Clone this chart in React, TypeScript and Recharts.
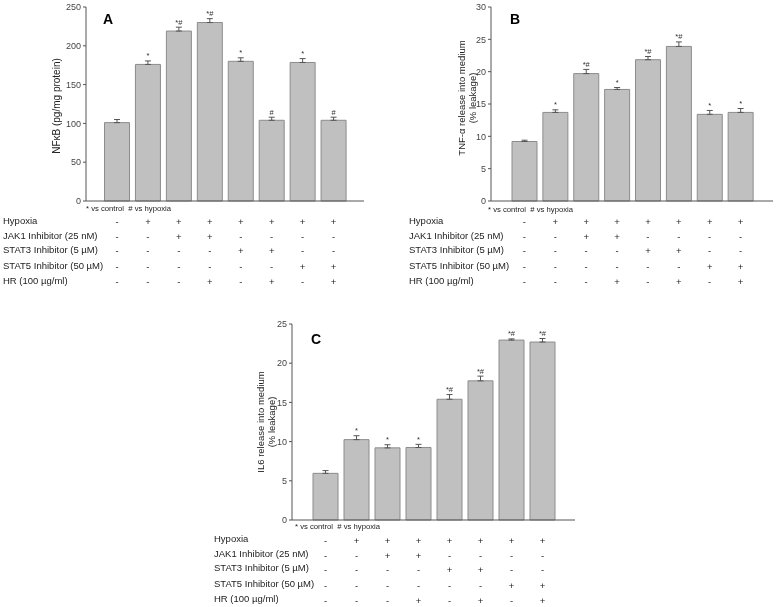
import React from 'react';
import { BarChart, Bar, XAxis, YAxis, ErrorBar, LabelList } from 'recharts';

// treatment groups, left to right
const groups = ['Control', 'Hypoxia', 'JAK1', 'JAK1 + HR', 'STAT3', 'STAT3 + HR', 'STAT5', 'STAT5 + HR'];

// condition table under every panel
const rowLabels = ['Hypoxia', 'JAK1 Inhibitor (25 nM)', 'STAT3 Inhibitor (5 \u00b5M)', 'STAT5 Inhibitor (50 \u00b5M)', 'HR (100 \u00b5g/ml)'];
const hypoxiaSigns = ['-', '+', '+', '+', '+', '+', '+', '+'];
const jak1Signs = ['-', '-', '+', '+', '-', '-', '-', '-'];
const stat3Signs = ['-', '-', '-', '-', '+', '+', '-', '-'];
const stat5Signs = ['-', '-', '-', '-', '-', '-', '+', '+'];
const hrSigns = ['-', '-', '-', '+', '-', '+', '-', '+'];
const signRows = [hypoxiaSigns, jak1Signs, stat3Signs, stat5Signs, hrSigns];

// A: NFkB
const nfkbValues = [101, 176, 219, 230, 180, 104, 178.5, 104];
const nfkbErrors = [4, 4.5, 5, 5, 4.5, 4, 5, 4];
const nfkbMarks = ['', '*', '*#', '*#', '*', '#', '*', '#'];
const nfkbTicks = [0, 50, 100, 150, 200, 250];

// B: TNF-alpha
const tnfValues = [9.2, 13.7, 19.7, 17.25, 21.85, 23.9, 13.4, 13.7];
const tnfErrors = [0.2, 0.4, 0.65, 0.3, 0.5, 0.7, 0.6, 0.6];
const tnfMarks = ['', '*', '*#', '*', '*#', '*#', '*', '*'];
const tnfTicks = [0, 5, 10, 15, 20, 25, 30];

// C: IL6
const il6Values = [5.95, 10.25, 9.2, 9.25, 15.4, 17.75, 22.95, 22.7];
const il6Errors = [0.35, 0.5, 0.4, 0.4, 0.6, 0.6, 0.15, 0.45];
const il6Marks = ['', '*', '*', '*', '*#', '*#', '*#', '*#'];
const il6Ticks = [0, 5, 10, 15, 20, 25];

const FONT = 'Arial, "Liberation Sans", sans-serif';
const rowOffsets = [20, 35, 49, 65, 80];

const buildData = (values: number[], errors: number[]) =>
  groups.map((g, i) => ({ group: g, value: values[i], err: [0, errors[i]] }));

const TableTick = (props: any) => {
  const { x, y, index } = props;
  return (
    <g>
      {signRows.map((row, r) => (
        <text key={r} x={x} y={y + rowOffsets[r] + 3.5} textAnchor="middle" fontSize={9.5} fontFamily={FONT} fill="#222">
          {row[index]}
        </text>
      ))}
    </g>
  );
};

interface PanelProps {
  left: number;
  top: number;
  width: number;
  height: number;
  axisWidth: number;
  marginTop: number;
  marginRight: number;
  axisHeight: number;
  padL: number;
  padR: number;
  values: number[];
  errors: number[];
  marks: string[];
  ticks: number[];
}

const Panel = (p: PanelProps) => {
  const data = buildData(p.values, p.errors);
  const renderMark = (lp: any) => {
    const { x, y, width, height, index } = lp;
    const v = p.values[index];
    const errPx = v ? (height * p.errors[index]) / v : 0;
    return (
      <text x={x + width / 2} y={y - errPx - 2.5} textAnchor="middle" fontSize={7.5} fontFamily={FONT} fill="#333">
        {p.marks[index]}
      </text>
    );
  };
  return (
    <div style={{ position: 'absolute', left: p.left, top: p.top }}>
      <BarChart
        width={p.width}
        height={p.height}
        data={data}
        margin={{ top: p.marginTop, right: p.marginRight, left: 0, bottom: 0 }}
      >
        <XAxis
          dataKey="group"
          height={p.axisHeight}
          interval={0}
          tickLine={false}
          tickSize={0}
          tickMargin={0}
          padding={{ left: p.padL, right: p.padR }}
          stroke="#555"
          tick={<TableTick />}
        />
        <YAxis
          width={p.axisWidth}
          domain={[p.ticks[0], p.ticks[p.ticks.length - 1]]}
          ticks={p.ticks}
          interval={0}
          tickSize={3}
          tickMargin={2}
          stroke="#555"
          tick={{ fontSize: 9, fontFamily: FONT, fill: '#444' }}
        />
        <Bar dataKey="value" fill="#c0c0c0" stroke="#8c8c8c" strokeWidth={1} barSize={25} isAnimationActive={false}>
          <ErrorBar dataKey="err" width={3} stroke="#555" strokeWidth={1} direction="y" />
          <LabelList dataKey="value" content={renderMark} />
        </Bar>
      </BarChart>
    </div>
  );
};

const txt = (left: number, top: number, text: string, size: number, extra: React.CSSProperties = {}) => (
  <div
    style={{
      position: 'absolute',
      left,
      top,
      fontSize: size,
      fontFamily: FONT,
      color: '#222',
      whiteSpace: 'nowrap',
      lineHeight: 1,
      ...extra,
    }}
  >
    {text}
  </div>
);

const YLabel = ({ cx, cy, lines, size }: { cx: number; cy: number; lines: string[]; size: number }) => (
  <div
    style={{
      position: 'absolute',
      left: cx,
      top: cy,
      transform: 'translate(-50%, -50%) rotate(-90deg)',
      whiteSpace: 'nowrap',
      textAlign: 'center',
      fontSize: size,
      fontFamily: FONT,
      lineHeight: '11px',
      color: '#222',
    }}
  >
    {lines.map((l, i) => (
      <div key={i}>{l}</div>
    ))}
  </div>
);

const rowTops = [221, 236, 250, 266, 281];

const Table = ({ x, dy }: { x: number; dy: number }) => (
  <>
    {rowLabels.map((l, i) => (
      <React.Fragment key={i}>{txt(x, rowTops[i] + dy - 5.5, l, 9.5)}</React.Fragment>
    ))}
  </>
);

export default function App() {
  return (
    <div
      style={{
        position: 'absolute',
        left: 0,
        top: 0,
        width: 776,
        height: 607,
        background: '#fff',
        overflow: 'hidden',
        filter: 'grayscale(1)',
      }}
    >
      <Panel
        left={0} top={0} width={390} height={300}
        axisWidth={86} marginTop={7} marginRight={26} axisHeight={99}
        padL={15.5} padR={15}
        values={nfkbValues} errors={nfkbErrors} marks={nfkbMarks} ticks={nfkbTicks}
      />
      <Panel
        left={390} top={0} width={386} height={300}
        axisWidth={101} marginTop={7} marginRight={3} axisHeight={99}
        padL={18} padR={17}
        values={tnfValues} errors={tnfErrors} marks={tnfMarks} ticks={tnfTicks}
      />
      <Panel
        left={200} top={300} width={400} height={307}
        axisWidth={92} marginTop={24} marginRight={25} axisHeight={87}
        padL={18} padR={17}
        values={il6Values} errors={il6Errors} marks={il6Marks} ticks={il6Ticks}
      />

      {txt(103, 12, 'A', 14, { fontWeight: 'bold', color: '#000' })}
      {txt(510, 12, 'B', 14, { fontWeight: 'bold', color: '#000' })}
      {txt(311, 332, 'C', 14, { fontWeight: 'bold', color: '#000' })}

      <YLabel cx={56} cy={106} lines={['NF\u03baB (pg/mg protein)']} size={10} />
      <YLabel cx={466.5} cy={98} lines={['TNF-\u03b1 release into medium', '(% leakage)']} size={9.5} />
      <YLabel cx={266} cy={422} lines={['IL6 release into medium', '(% leakage)']} size={9.5} />

      {txt(86, 205, '* vs control  # vs hypoxia', 7.7, { whiteSpace: 'pre' })}
      {txt(488, 206, '* vs control  # vs hypoxia', 7.7, { whiteSpace: 'pre' })}
      {txt(295, 523, '* vs control  # vs hypoxia', 7.7, { whiteSpace: 'pre' })}

      <Table x={3} dy={0} />
      <Table x={409} dy={0} />
      <Table x={214} dy={318} />
    </div>
  );
}
